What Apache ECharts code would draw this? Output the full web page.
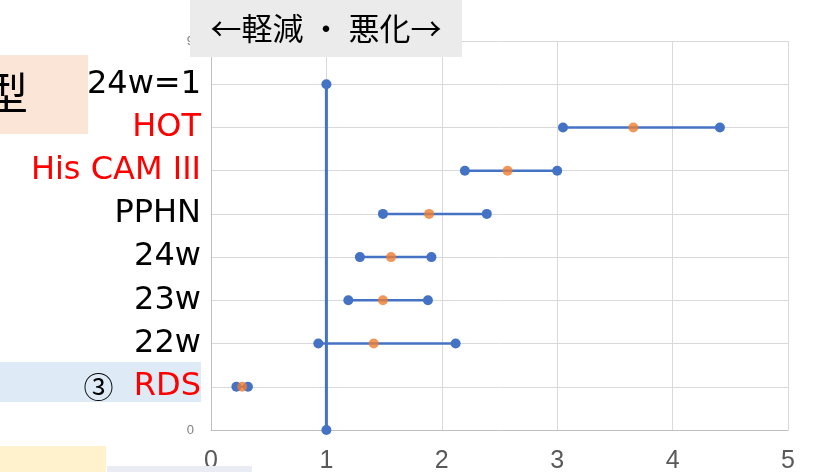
<!DOCTYPE html>
<html>
<head>
<meta charset="utf-8">
<script src="https://cdn.jsdelivr.net/npm/echarts@6/dist/echarts.min.js"></script>
<style>html,body{margin:0;padding:0;background:#fff}#c{width:815px;height:472px}</style>
</head>
<body>
<div id="c"></div>
<script>
// ---- data ----
const categories = ['③  RDS', '22w', '23w', '24w', 'PPHN', 'His CAM III', 'HOT', '24w=1'];
const categoryRed = [true, false, false, false, false, true, true, false];
const rowY = [1, 2, 3, 4, 5, 6, 7];          // rows with intervals (RDS..HOT)
const lows  = [0.22, 0.93, 1.19, 1.29, 1.49, 2.20, 3.05];
const mids  = [0.27, 1.41, 1.49, 1.56, 1.89, 2.57, 3.66];
const highs = [0.32, 2.12, 1.88, 1.91, 2.39, 3.00, 4.41];
const refX = 1;
const refY = [0, 8];
const xTicks = [0, 1, 2, 3, 4, 5];
const yTickShown = [0, 9];
const titleText = '←軽減 ・ 悪化→';

const BLUE = '#4472C4', ORANGE = '#ED7D31';
const series = [];
series.push({
  type: 'line', data: refY.map(y => [refX, y]), symbol: 'circle', symbolSize: 10,
  lineStyle: {color: BLUE, width: 3}, itemStyle: {color: BLUE}, z: 3, silent: true
});
rowY.forEach((y, i) => {
  series.push({
    type: 'line', data: [[lows[i], y], [highs[i], y]], symbol: 'circle', symbolSize: 10,
    lineStyle: {color: BLUE, width: 2.5}, itemStyle: {color: BLUE}, z: 3, silent: true
  });
});
series.push({
  type: 'scatter', data: rowY.map((y, i) => [mids[i], y]), symbol: 'circle', symbolSize: 10,
  itemStyle: {color: ORANGE}, z: 4, silent: true
});

const catFont = 'DejaVu Sans';
const chart = echarts.init(document.getElementById('c'));
chart.setOption({
  animation: false,
  backgroundColor: '#fff',
  grid: {left: 211, right: 27, top: 41, bottom: 42, outerBoundsMode: 'none', containLabel: false},
  xAxis: {
    type: 'value', min: 0, max: 5, interval: 1,
    axisLine: {show: true, lineStyle: {color: '#bfbfbf', width: 1}},
    axisTick: {show: false},
    splitLine: {show: true, lineStyle: {color: '#d9d9d9', width: 1}},
    axisLabel: {fontSize: 25, color: '#595959', margin: 19, fontFamily: 'Liberation Sans',
      formatter: v => xTicks.includes(v) ? String(v) : ''}
  },
  yAxis: [{
    type: 'value', min: 0, max: 9, interval: 1,
    axisLine: {show: true, lineStyle: {color: '#bfbfbf', width: 1}},
    axisTick: {show: false},
    splitLine: {show: true, lineStyle: {color: '#d9d9d9', width: 1}},
    axisLabel: {fontSize: 13, color: '#808080', margin: 17,
      formatter: v => yTickShown.includes(v) ? String(v) : ''}
  }, {
    type: 'value', min: 0, max: 9, interval: 1, position: 'left', offset: 0,
    axisLine: {show: false}, axisTick: {show: false}, splitLine: {show: false},
    axisLabel: {
      margin: 10,
      formatter: v => {
        if (v < 1 || v > categories.length) return '';
        const idx = v - 1, name = categories[idx];
        if (name.startsWith('③')) return '{c|③}{k|  }{r|RDS}';
        return (categoryRed[idx] ? '{r|' : '{k|') + name + '}';
      },
      rich: {
        k: {fontSize: 32, color: '#000', fontFamily: catFont},
        r: {fontSize: 32, color: '#ff0000', fontFamily: catFont},
        c: {fontSize: 30, color: '#000', fontFamily: 'Noto Sans CJK JP'}
      }
    }
  }],
  series: series,
  graphic: [
    {type: 'rect', z: 0, zlevel: 0, shape: {x: 0, y: 55, width: 88, height: 79}, style: {fill: '#fbe5d6'}},
    {type: 'text', z: 1, style: {x: 6, y: 93, text: '型', fontSize: 44, fill: '#000',
      fontFamily: 'Noto Sans CJK JP', align: 'center', verticalAlign: 'middle'}},
    {type: 'rect', z: -1, shape: {x: 0, y: 362, width: 201, height: 40}, style: {fill: '#deebf7'}},
    {type: 'rect', z: 100, shape: {x: 0, y: 446, width: 106, height: 26}, style: {fill: '#fff2cc'}},
    {type: 'rect', z: 100, shape: {x: 107, y: 466, width: 145, height: 6}, style: {fill: '#e9ecf3'}},
    {type: 'rect', z: 100, shape: {x: 190, y: 0, width: 272, height: 57}, style: {fill: '#ebebeb'}},
    {type: 'text', z: 101, style: {x: 326, y: 28, text: titleText, fontSize: 31, fill: '#000',
      fontFamily: 'Noto Sans CJK JP', align: 'center', verticalAlign: 'middle'}}
  ]
});
</script>
</body>
</html>
